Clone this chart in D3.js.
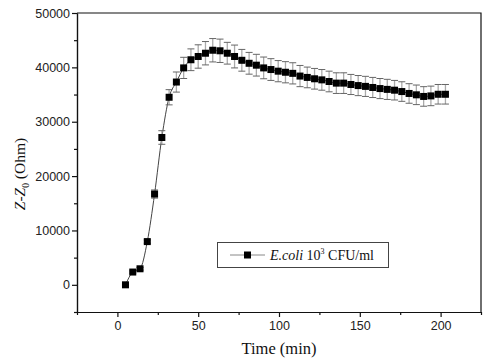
<html lang="en">
<head>
  <meta charset="UTF-8">
  <title>Impedance change</title>
  <style>
    body { margin: 0; background: #fff; }
    svg { display: block; }
  </style>
</head>
<body>
  <div id="chart"></div>
  <script src="https://d3js.org/d3.v7.min.js"></script>
  <script>
    // time points (min) and impedance change Z-Z0 (Ohm), with error bars
    const times = [5, 9.5, 14, 18.5, 23, 27.5, 32, 36.5, 41, 45.5, 50, 54.5, 59, 63.5, 68, 72.5, 77, 81.5,
      86, 90.5, 95, 99.5, 104, 108.5, 113, 117.5, 122, 126.5, 131, 135.5, 140, 144.5, 149, 153.5, 158,
      162.5, 167, 171.5, 176, 180.5, 185, 189.5, 194, 198.5, 203];
    const impedance = [0, 2350, 2950, 7950, 16700, 27100, 34500, 37300, 39900, 41400, 42000, 42600, 43150,
      43050, 42600, 42000, 41300, 40750, 40400, 39900, 39600, 39300, 39100, 38900, 38400, 38150, 37900,
      37700, 37400, 37100, 37100, 36850, 36650, 36500, 36300, 36100, 35950, 35800, 35550, 35200, 34950,
      34650, 34750, 35050, 35050];
    const errors = [150, 200, 250, 300, 750, 1250, 1400, 1850, 1950, 2000, 2150, 2150, 2150, 2150, 2000,
      2100, 2000, 2000, 2000, 2000, 2000, 1950, 1950, 1950, 1950, 1900, 1900, 1900, 1900, 1900, 1900,
      1850, 1850, 1850, 1850, 1850, 1850, 1800, 1800, 1800, 1800, 1800, 1800, 1800, 1800];
    const xTicks = [0, 50, 100, 150, 200];
    const xMinor = [-25, 25, 75, 125, 175, 225];
    const yTicks = [0, 10000, 20000, 30000, 40000, 50000];
    const yMinor = [-5000, 5000, 15000, 25000, 35000, 45000];

    const w = 500, h = 361;
    const padLeft = 77, padRight = 481, padTop = 13, padBottom = 312;
    const serif = "'Liberation Serif', 'Times New Roman', serif";
    const sans = "'Liberation Sans', Arial, sans-serif";

    const svg = d3.select("#chart").append("svg")
      .attr("width", w)
      .attr("height", h);

    const xScale = d3.scaleLinear().domain([-25, 225]).range([padLeft, padRight]);
    const yScale = d3.scaleLinear().domain([-5000, 50000]).range([padBottom, padTop]);

    const data = times.map((t, i) => ({ t: t, v: impedance[i], e: errors[i] }));

    // frame top + right
    svg.append("path")
      .attr("d", `M${padLeft},${padTop}H${padRight}V${padBottom}`)
      .attr("fill", "none")
      .attr("stroke", "#111")
      .attr("stroke-width", 1.2);

    // axes
    const xAxis = d3.axisBottom(xScale).tickValues(xTicks).tickSize(5).tickSizeOuter(0).tickPadding(4)
      .tickFormat(d3.format("d"));
    const xAxisMinor = d3.axisBottom(xScale).tickValues(xMinor).tickSize(3).tickSizeOuter(0).tickFormat("");
    const yAxis = d3.axisLeft(yScale).tickValues(yTicks).tickSize(5).tickSizeOuter(0).tickPadding(2)
      .tickFormat(d3.format("d"));
    const yAxisMinor = d3.axisLeft(yScale).tickValues(yMinor).tickSize(3).tickSizeOuter(0).tickFormat("");

    function styleAxis(g) {
      g.attr("font-family", sans).attr("font-size", 12.5);
      g.selectAll("path, line").attr("stroke", "#111").attr("stroke-width", 1.2);
      g.selectAll("text").attr("fill", "#222");
    }

    svg.append("g").attr("transform", `translate(0,${padBottom})`).call(xAxisMinor).call(styleAxis);
    svg.append("g").attr("id", "x-axis").attr("transform", `translate(0,${padBottom})`).call(xAxis).call(styleAxis);
    svg.append("g").attr("transform", `translate(${padLeft},0)`).call(yAxisMinor).call(styleAxis);
    svg.append("g").attr("id", "y-axis").attr("transform", `translate(${padLeft},0)`).call(yAxis).call(styleAxis);

    // connecting line
    const line = d3.line()
      .x(d => xScale(d.t))
      .y(d => yScale(d.v))
      .curve(d3.curveMonotoneX);

    svg.append("path")
      .datum(data)
      .attr("d", line)
      .attr("fill", "none")
      .attr("stroke", "#444")
      .attr("stroke-width", 1);

    // error bars
    const bars = svg.append("g").selectAll("g")
      .data(data)
      .enter()
      .append("g");

    bars.append("line")
      .attr("x1", d => xScale(d.t))
      .attr("x2", d => xScale(d.t))
      .attr("y1", d => yScale(d.v + d.e))
      .attr("y2", d => yScale(d.v - d.e))
      .attr("stroke", "#aaa")
      .attr("stroke-width", 1.3);

    [1, -1].forEach(s => {
      bars.append("line")
        .attr("x1", d => xScale(d.t) - 3.5)
        .attr("x2", d => xScale(d.t) + 3.5)
        .attr("y1", d => yScale(d.v + s * d.e))
        .attr("y2", d => yScale(d.v + s * d.e))
        .attr("stroke", "#666")
        .attr("stroke-width", 1);
    });

    // square markers
    svg.append("g").selectAll("rect")
      .data(data)
      .enter()
      .append("rect")
      .attr("x", d => xScale(d.t) - 3.5)
      .attr("y", d => yScale(d.v) - 3.5)
      .attr("width", 7)
      .attr("height", 7)
      .attr("fill", "#000");

    // axis titles
    svg.append("text")
      .attr("x", (padLeft + padRight) / 2)
      .attr("y", 354)
      .attr("text-anchor", "middle")
      .attr("font-family", serif)
      .attr("font-size", 16.5)
      .attr("fill", "#111")
      .text("Time (min)");

    const yTitle = svg.append("text")
      .attr("transform", "translate(25,174) rotate(-90)")
      .attr("text-anchor", "middle")
      .attr("font-family", serif)
      .attr("font-size", 15.5)
      .attr("fill", "#111");
    yTitle.append("tspan").attr("font-style", "italic").text("Z-Z");
    yTitle.append("tspan").attr("dy", 4).attr("font-size", 9.5).text("0");
    yTitle.append("tspan").attr("dy", -4).text(" (Ohm)");

    // legend
    const lg = svg.append("g");
    lg.append("rect")
      .attr("x", 217.5).attr("y", 242.5)
      .attr("width", 171).attr("height", 25)
      .attr("fill", "#fff")
      .attr("stroke", "#444")
      .attr("stroke-width", 1);
    lg.append("line")
      .attr("x1", 230).attr("x2", 265)
      .attr("y1", 255).attr("y2", 255)
      .attr("stroke", "#888")
      .attr("stroke-width", 1);
    lg.append("rect")
      .attr("x", 244).attr("y", 251.5)
      .attr("width", 7).attr("height", 7)
      .attr("fill", "#000");
    const lt = lg.append("text")
      .attr("x", 270)
      .attr("y", 260)
      .attr("font-family", serif)
      .attr("font-size", 14)
      .attr("fill", "#111");
    lt.append("tspan").attr("font-style", "italic").text("E.coli");
    lt.append("tspan").text(" 10");
    lt.append("tspan").attr("dy", -6).attr("font-size", 8).text("3");
    lt.append("tspan").attr("dy", 6).text(" CFU/ml");
  </script>
</body>
</html>
